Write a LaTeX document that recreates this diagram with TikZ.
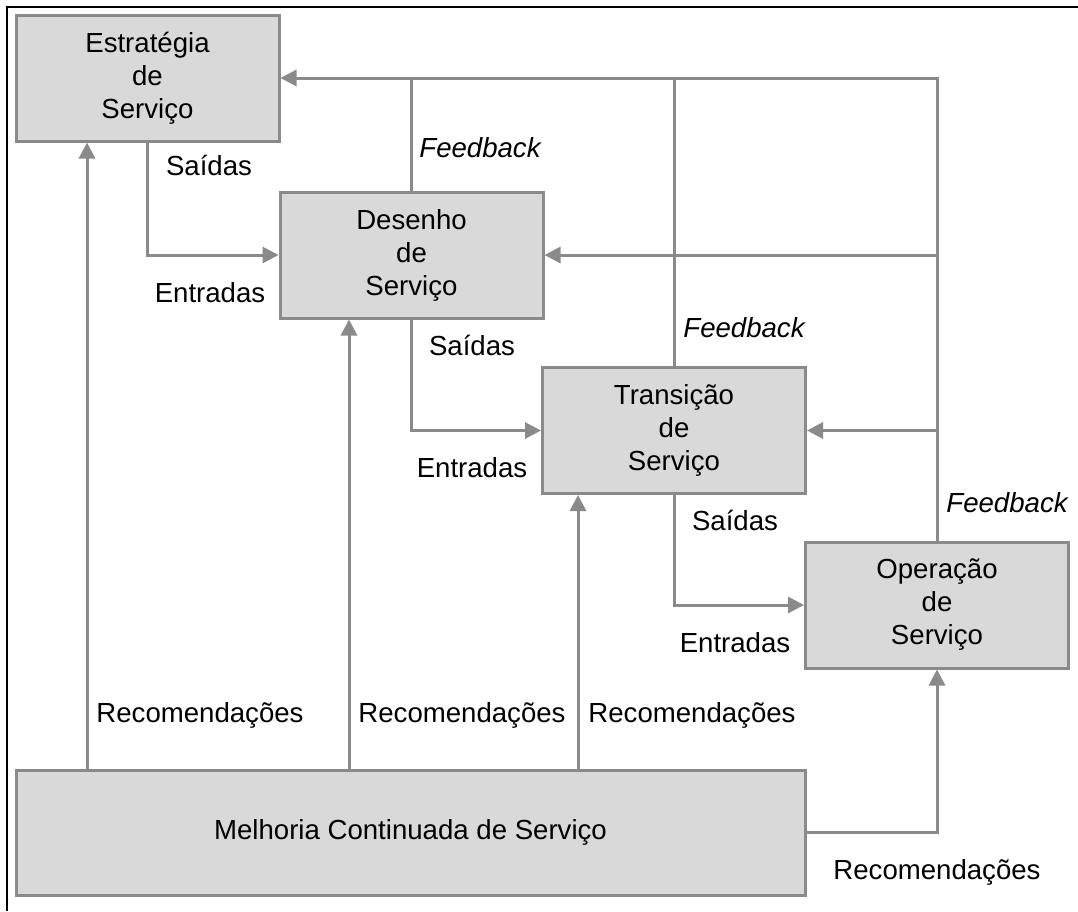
\documentclass[tikz,border=0pt]{standalone}
\usepackage{fontspec}
\setmainfont{Liberation Sans}
\usetikzlibrary{arrows.meta}
\definecolor{linegray}{RGB}{138,138,138}
\definecolor{boxfill}{RGB}{217,217,217}
\begin{document}
\begin{tikzpicture}[x=1pt,y=-1pt,
  phase/.style={draw=linegray, line width=3pt, fill=boxfill,
    minimum width=263pt, minimum height=126pt, align=center, inner sep=0pt,
    font=\fontsize{27.6}{33}\selectfont},
  lbl/.style={inner sep=0pt, font=\fontsize{27.6}{33}\selectfont},
  fb/.style={inner sep=0pt, font=\fontsize{27.6}{33}\selectfont\itshape},
  link/.style={draw=linegray, line width=3pt},
  flow/.style={link, -{Triangle[length=16pt,width=16pt]}}]
\useasboundingbox (0,0) rectangle (1078,911);

% outer frame (top and left edges)
\draw[black, line width=2pt] (7,911) -- (7,7) -- (1078,7);

% the five lifecycle stages
\node[phase] (est) at (147.5,78)  {Estratégia\\de\\Serviço};
\node[phase] (des) at (411.5,255) {Desenho\\de\\Serviço};
\node[phase] (tra) at (674,430.5) {Transição\\de\\Serviço};
\node[phase] (ope) at (937,605)   {Operação\\de\\Serviço};
\node[phase, minimum width=789pt, minimum height=125pt] (mel) at (410.5,832.5)
  {Melhoria Continuada de Serviço};

% outputs feeding the next stage
\draw[flow] (est.south) |- (des.west);
\draw[flow] (des.south) |- (tra.west);
\draw[flow] (tra.south) |- (ope.west);

% feedback lines
\draw[flow] (ope.north) |- (est.east);
\draw[link] (des.north) -- (des.north |- est.east);
\draw[link] (tra.north) -- (tra.north |- est.east);
\draw[flow] (ope.north |- des.east) -- (des.east);
\draw[flow] (ope.north |- tra.east) -- (tra.east);

% recommendations from continual improvement
\coordinate (r1) at (87,0);
\coordinate (r2) at (349,0);
\coordinate (r3) at (578,0);
\draw[flow] (r1 |- mel.north) -- (r1 |- est.south);
\draw[flow] (r2 |- mel.north) -- (r2 |- des.south);
\draw[flow] (r3 |- mel.north) -- (r3 |- tra.south);
\draw[flow] (mel.east) -| (ope.south);

% labels
\node[lbl] (s1) at (209,165) {Saídas};
\node[lbl] (e1) at (210,293) {Entradas};
\node[fb]  (f1) at (480,148) {Feedback};
\node[lbl] (s2) at (472,345) {Saídas};
\node[lbl] (e2) at (472,468) {Entradas};
\node[fb]  (f2) at (744,328) {Feedback};
\node[lbl] (s3) at (735,520) {Saídas};
\node[lbl] (e3) at (735,643) {Entradas};
\node[fb]  (f3) at (1007,503) {Feedback};
\node[lbl] (c1) at (200,715) {Recomendações};
\node[lbl] (c2) at (462,715) {Recomendações};
\node[lbl] (c3) at (692,715) {Recomendações};
\node[lbl] (c4) at (937,872) {Recomendações};
\end{tikzpicture}
\end{document}
